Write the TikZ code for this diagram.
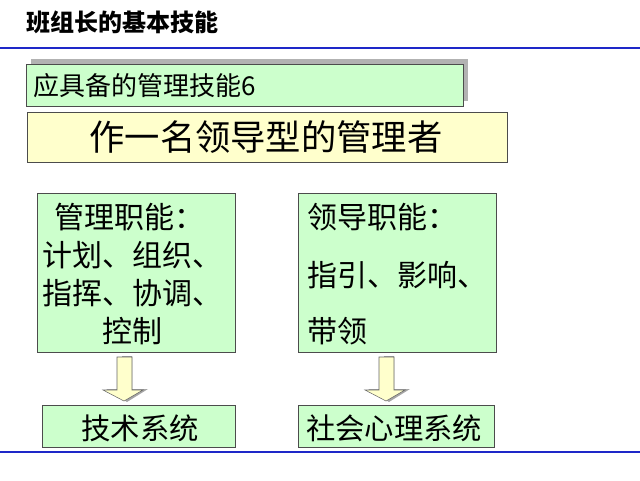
\documentclass[tikz,border=0pt]{standalone}
\usepackage{fontspec}
\setmainfont{Liberation Serif}
\newfontfamily\cjk{Noto Sans CJK SC}
\definecolor{boxgreen}{RGB}{204,255,204}
\definecolor{boxyellow}{RGB}{255,255,204}
\definecolor{rulerblue}{RGB}{30,40,200}
\tikzset{
  greenbox/.style={draw=black!70,fill=boxgreen,inner sep=0pt},
  downarrow/.pic={
    \fill[gray!70] (-5,-1)--(5,-1)--(5,32)--(21,32)--(0,45)--(-21,32)--(-5,32)--cycle;
    \filldraw[draw=black!60,fill=boxyellow] (-10,0)--(5,0)--(5,33)--(16,33)--(-3,44)--(-24,33)--(-10,33)--cycle;
  }
}
\begin{document}
\begin{tikzpicture}[x=0.75pt,y=-0.75pt,font=\cjk]
\useasboundingbox (0,0) rectangle (640,480);
\node[anchor=west,font=\cjk\bfseries\fontsize{18}{18}\selectfont] (title) at (22,22) {班组长的基本技能};
\draw[rulerblue,line width=2pt] (0,48) -- (640,48);
\draw[rulerblue,line width=2pt] (0,452) -- (640,452);
% top boxes
\fill[gray!60] (31,59) rectangle (468,101);
\draw[greenbox] (26,64) rectangle (463,106);
\node[anchor=west,font=\cjk\fontsize{19.5}{19.5}\selectfont] (skill) at (29,86) {应具备的管理技能6};
\draw[draw=black!70,fill=boxyellow] (27,112) rectangle (507,162);
\node[font=\cjk\fontsize{26.5}{26.5}\selectfont] (lead) at (266,137) {作一名领导型的管理者};
% function boxes
\draw[greenbox] (37,193) rectangle (235,352);
\draw[greenbox] (298,193) rectangle (496,352);
\begin{scope}[every node/.style={anchor=west,font=\cjk\fontsize{22.5}{22.5}\selectfont}]
\node (m1) at (50,217) {管理职能：};
\node (m2) at (38,255) {计划、组织、};
\node (m3) at (38,293) {指挥、协调、};
\node (m4) at (98,331) {控制};
\node (l1) at (303,217) {领导职能：};
\node (l2) at (303,275) {指引、影响、};
\node (l3) at (303,331) {带领};
\end{scope}
% arrows
\pic at (127,357) {downarrow};
\pic at (389,357) {downarrow};
% bottom boxes
\draw[greenbox] (42,405) rectangle (235,447);
\draw[greenbox] (298,405) rectangle (494,447);
\node[font=\cjk\fontsize{22}{22}\selectfont] (tech) at (140,428) {技术系统};
\node[font=\cjk\fontsize{22}{22}\selectfont] (social) at (394,428) {社会心理系统};
\end{tikzpicture}
\end{document}
